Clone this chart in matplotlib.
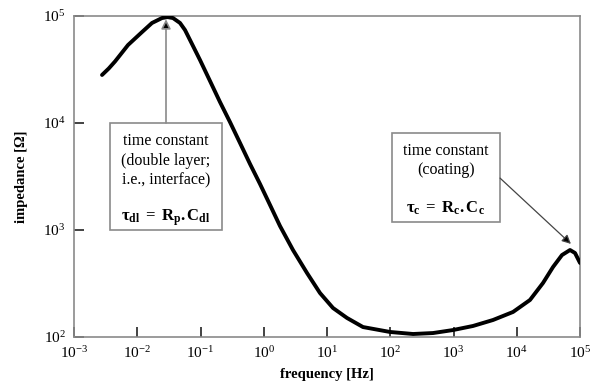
import numpy as np
import matplotlib
matplotlib.use('Agg')
import matplotlib.pyplot as plt
from matplotlib.patches import Rectangle
from matplotlib.ticker import FuncFormatter

plt.rcParams['font.family'] = ['Liberation Serif', 'DejaVu Serif']
plt.rcParams['mathtext.fontset'] = 'custom'
plt.rcParams['mathtext.rm'] = 'Liberation Serif'
plt.rcParams['mathtext.bf'] = 'Liberation Serif:bold'
plt.rcParams['mathtext.it'] = 'Liberation Serif:italic'

# Bode magnitude (log10 values)
log_freq = [-2.557, -2.45, -2.352, -2.146, -1.925, -1.767, -1.609, -1.52, -1.435,
            -1.324, -1.245, -1.166, -1.008, -0.850, -0.692, -0.534, -0.375,
            -0.217, -0.059, 0.099, 0.257, 0.462, 0.684, 0.889, 1.095, 1.316,
            1.569, 1.996, 2.360, 2.676, 2.992, 3.308, 3.625, 3.941, 4.209,
            4.415, 4.573, 4.715, 4.842, 4.921, 5.0]
log_imp = [4.449, 4.51, 4.575, 4.729, 4.850, 4.935, 4.981, 4.99, 4.981,
           4.935, 4.869, 4.776, 4.589, 4.393, 4.196, 4.009, 3.813,
           3.617, 3.430, 3.234, 3.037, 2.813, 2.598, 2.411, 2.271, 2.178,
           2.093, 2.047, 2.028, 2.037, 2.065, 2.103, 2.159, 2.234, 2.346,
           2.505, 2.654, 2.766, 2.813, 2.785, 2.692]

freq = 10 ** np.array(log_freq)
imp = 10 ** np.array(log_imp)

xticks = [1e-3, 1e-2, 1e-1, 1e0, 1e1, 1e2, 1e3, 1e4, 1e5]
yticks = [1e2, 1e3, 1e4, 1e5]


def pow10(v, pos):
    e = int(round(np.log10(v)))
    return r'$\mathdefault{10^{%d}}$' % e


fig = plt.figure(figsize=(5.93, 3.84), dpi=100)
ax = fig.add_axes([0.1248, 0.1224, 0.8533, 0.8359])

ax.plot(freq, imp, color='black', lw=2.8, solid_capstyle='round',
        solid_joinstyle='round', zorder=3)

ax.set_xscale('log')
ax.set_yscale('log')
ax.set_xlim(1e-3, 1e5)
ax.set_ylim(1e2, 1e5)
ax.set_xticks(xticks)
ax.set_yticks(yticks)
ax.minorticks_off()
ax.xaxis.set_major_formatter(FuncFormatter(pow10))
ax.yaxis.set_major_formatter(FuncFormatter(pow10))
ax.tick_params(direction='in', length=7, width=1.2, color='#222222',
               labelsize=11, pad=6)
for s in ax.spines.values():
    s.set_color('#8a8a8a')
    s.set_linewidth(1.2)

ax.set_xlabel('frequency [Hz]', fontsize=10.5, fontweight='bold', labelpad=5)
ax.set_ylabel('impedance [Ω]', fontsize=10.5, fontweight='bold', labelpad=11)

# annotation boxes
ax.add_patch(Rectangle((0.0711, 0.3333), 0.2214, 0.3334, transform=ax.transAxes,
                       fill=False, ec='#8a8a8a', lw=1.2))
ax.add_patch(Rectangle((0.628, 0.358), 0.214, 0.2775, transform=ax.transAxes,
                       fill=False, ec='#8a8a8a', lw=1.2))

ax.text(0.182, 0.635, 'time constant\n(double layer;\ni.e., interface)',
        transform=ax.transAxes, ha='center', va='top', fontsize=11.5,
        linespacing=1.28)
ax.text(0.182, 0.371, r'$\mathbf{\tau_{dl}\ =\ R_p.C_{dl}}$',
        transform=ax.transAxes, ha='center', va='center', fontsize=12)

ax.text(0.735, 0.605, 'time constant\n(coating)',
        transform=ax.transAxes, ha='center', va='top', fontsize=11.5,
        linespacing=1.28)
ax.text(0.735, 0.402, r'$\mathbf{\tau_c\ =\ R_c.C_c}$',
        transform=ax.transAxes, ha='center', va='center', fontsize=12)

# arrows
ax.annotate('', xy=(0.1818, 0.99), xycoords='axes fraction',
            xytext=(0.1818, 0.6667), textcoords='axes fraction',
            arrowprops=dict(arrowstyle='-|>', lw=1.2, mutation_scale=14,
                            shrinkA=0, shrinkB=0, fc='black', ec='#8a8a8a'))
ax.annotate('', xy=(0.982, 0.29), xycoords='axes fraction',
            xytext=(0.842, 0.495), textcoords='axes fraction',
            arrowprops=dict(arrowstyle='-|>', color='#444444', lw=0.9,
                            mutation_scale=13, shrinkA=0, shrinkB=0,
                            fc='black'))

fig.savefig('out.png', dpi=100)
